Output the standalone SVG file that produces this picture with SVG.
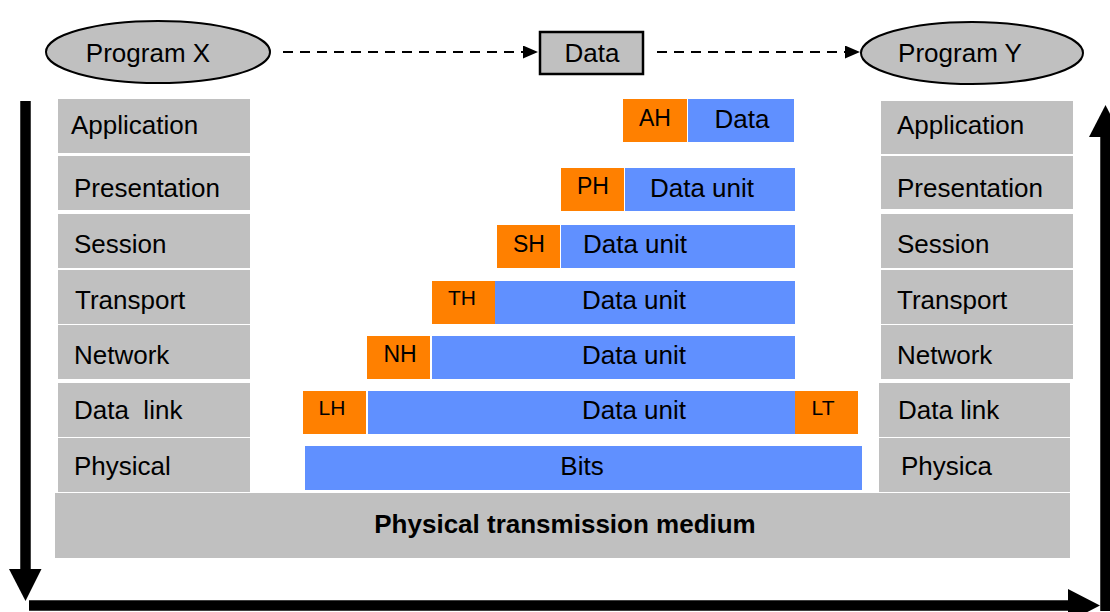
<svg xmlns="http://www.w3.org/2000/svg" width="1110" height="612" viewBox="0 0 1110 612">
<style>
text{font-family:"Liberation Sans",Arial,sans-serif;fill:#000}
.lbl{font-size:26px}
.hdr{font-size:23px;text-anchor:middle}
.hdr2{font-size:21px;text-anchor:middle}
.mid{font-size:26px;text-anchor:middle}
.layer{fill:#c0c0c0}
.org{fill:#ff8000}
.blu{fill:#6090ff}
.dash{stroke:#000;stroke-width:2.2;stroke-dasharray:10 7;fill:none}
.thick{stroke:#000;stroke-width:10.5;fill:none}
</style>
<defs>
<marker id="sm" viewBox="0 0 10 10" refX="10" refY="5" markerWidth="15" markerHeight="13" markerUnits="userSpaceOnUse" orient="auto" preserveAspectRatio="none"><path d="M0,0 L10,5 L0,10 z" fill="#000"/></marker>
</defs>
<rect width="1110" height="612" fill="#fff"/>

<g id="program-x"><ellipse cx="158" cy="52" rx="112" ry="31" fill="#c0c0c0" stroke="#000" stroke-width="2"/><text class="lbl" x="148" y="62" text-anchor="middle">Program X</text></g>
<g id="data-top"><rect x="540" y="32" width="103" height="42" fill="#c0c0c0" stroke="#000" stroke-width="2.5"/><text class="lbl" x="592" y="62" text-anchor="middle">Data</text></g>
<g id="program-y"><ellipse cx="972" cy="53" rx="111" ry="31" fill="#c0c0c0" stroke="#000" stroke-width="2"/><text class="lbl" x="960" y="62" text-anchor="middle">Program Y</text></g>

<g id="left-stack">
<rect class="layer" x="58" y="99" width="192" height="54"/><text class="lbl" x="71" y="134">Application</text>
<rect class="layer" x="58" y="156" width="192" height="54"/><text class="lbl" x="74" y="197">Presentation</text>
<rect class="layer" x="58" y="214" width="192" height="54"/><text class="lbl" x="74" y="253">Session</text>
<rect class="layer" x="58" y="270" width="192" height="54"/><text class="lbl" x="75" y="309">Transport</text>
<rect class="layer" x="58" y="325" width="192" height="54"/><text class="lbl" x="74" y="364">Network</text>
<rect class="layer" x="58" y="383" width="192" height="54"/><text class="lbl" x="74" y="419" xml:space="preserve">Data  link</text>
<rect class="layer" x="58" y="438" width="192" height="54"/><text class="lbl" x="74" y="475">Physical</text>
</g>

<g id="right-stack">
<rect class="layer" x="881" y="101" width="192" height="53"/><text class="lbl" x="897" y="134">Application</text>
<rect class="layer" x="881" y="156" width="192" height="53"/><text class="lbl" x="897" y="197">Presentation</text>
<rect class="layer" x="881" y="214" width="192" height="54"/><text class="lbl" x="897" y="253">Session</text>
<rect class="layer" x="881" y="270" width="192" height="54"/><text class="lbl" x="897" y="309">Transport</text>
<rect class="layer" x="881" y="325" width="192" height="54"/><text class="lbl" x="897" y="364">Network</text>
<rect class="layer" x="879" y="383" width="191" height="54"/><text class="lbl" x="898" y="419">Data link</text>
<rect class="layer" x="879" y="438" width="191" height="54"/><text class="lbl" x="901" y="475">Physica</text>
</g>

<g id="medium"><rect class="layer" x="55" y="493" width="1015" height="65"/><text x="565" y="533" font-size="26" font-weight="bold" text-anchor="middle">Physical transmission medium</text></g>

<g id="row-application"><rect class="org" x="623" y="99" width="64" height="43"/><rect class="blu" x="688" y="99" width="106" height="43"/><text class="hdr" x="655" y="126">AH</text><text class="mid" x="742" y="128">Data</text></g>
<g id="row-presentation"><rect class="org" x="561" y="168" width="63" height="43"/><rect class="blu" x="625" y="168" width="170" height="43"/><text class="hdr" x="593" y="194">PH</text><text class="mid" x="702" y="197">Data unit</text></g>
<g id="row-session"><rect class="org" x="497" y="225" width="63" height="43"/><rect class="blu" x="561" y="225" width="234" height="43"/><text class="hdr" x="529" y="252">SH</text><text class="mid" x="635" y="253">Data unit</text></g>
<g id="row-transport"><rect class="org" x="432" y="281" width="63" height="43"/><rect class="blu" x="495" y="281" width="300" height="43"/><text class="hdr2" x="462" y="305">TH</text><text class="mid" x="634" y="309">Data unit</text></g>
<g id="row-network"><rect class="org" x="367" y="336" width="63" height="43"/><rect class="blu" x="432" y="336" width="363" height="43"/><text class="hdr" x="400" y="362">NH</text><text class="mid" x="634" y="364">Data unit</text></g>
<g id="row-datalink"><rect class="org" x="303" y="391" width="63" height="43"/><rect class="blu" x="368" y="391" width="427" height="43"/><rect class="org" x="795" y="391" width="63" height="43"/><text class="hdr2" x="332" y="415">LH</text><text class="mid" x="634" y="419">Data unit</text><text class="hdr2" x="823" y="415">LT</text></g>
<g id="row-physical"><rect class="blu" x="305" y="446" width="557" height="44"/><text class="mid" x="582" y="475">Bits</text></g>

<g id="connectors">
<path class="dash" d="M283,52 H538" marker-end="url(#sm)"/>
<path class="dash" d="M657,52 H860" marker-end="url(#sm)"/>
<path class="thick" d="M25.5,101 V570"/>
<path d="M9,569 L41.5,569 L25.5,601 z" fill="#000"/>
<path class="thick" d="M29,605.5 H1069"/>
<path d="M1068,589 L1100,605.5 L1068,622 z" fill="#000"/>
<path class="thick" d="M1105.5,611 V136"/>
<path d="M1089,137 L1105.5,105 L1122,137 z" fill="#000"/>
</g>
</svg>
